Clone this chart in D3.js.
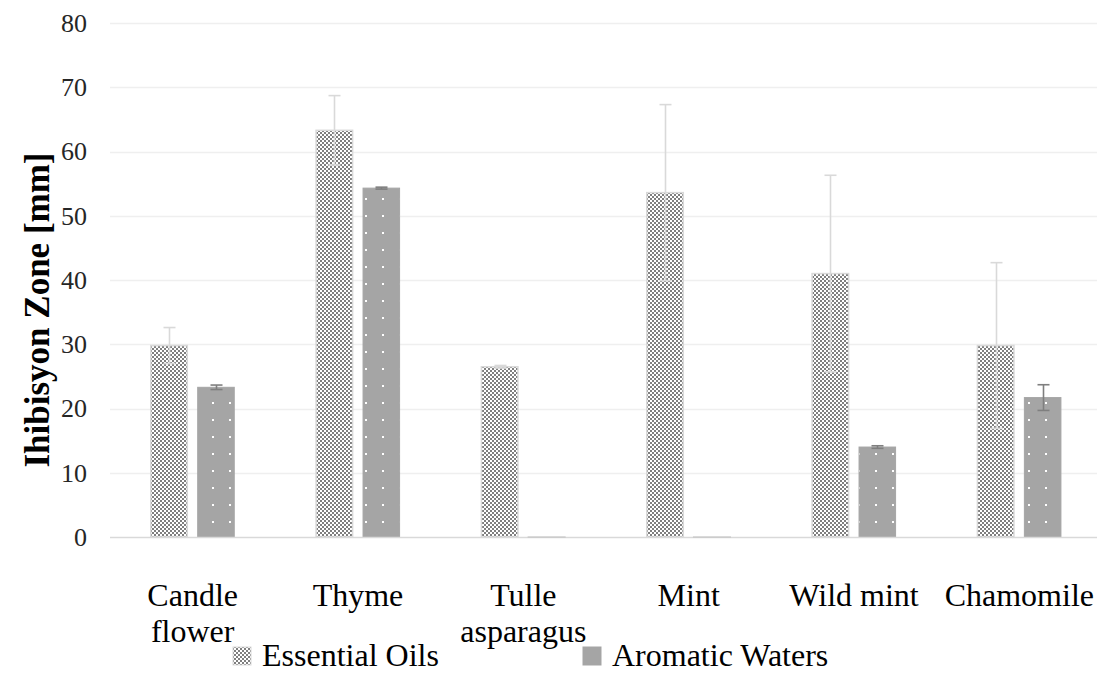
<!DOCTYPE html>
<html><head><meta charset="utf-8">
<script src="https://cdn.jsdelivr.net/npm/d3@7"></script>
</head><body style="margin:0"><svg id="c" width="1097" height="684" style="display:block"></svg>
<script>
const categories = [["Candle","flower"],["Thyme"],["Tulle","asparagus"],["Mint"],["Wild mint"],["Chamomile"]];
const seriesNames = ["Essential Oils","Aromatic Waters"];
const essentialOils = [29.8, 63.3, 26.5, 53.6, 41.0, 29.8];
const essentialErr = [2.8, 5.4, 0.2, 13.7, 15.3, 12.9];
const aromaticWaters = [23.3, 54.3, 0, 0, 14.0, 21.7];
const aromaticErr = [0.35, 0.15, 0, 0, 0.2, 2.0];
const yTicks = [0,10,20,30,40,50,60,70,80];
const FONT = '"Liberation Serif"';

const svg = d3.select("#c");
const defs = svg.append("defs");
const p1 = defs.append("pattern").attr("id","pEO").attr("patternUnits","userSpaceOnUse").attr("width",8).attr("height",8);
p1.append("rect").attr("width",8).attr("height",8).attr("fill","#fff");
[[0,0],[4,0],[2,2],[6,2],[0,4],[4,4],[2,6],[6,6]].forEach(([x,y])=>p1.append("rect").attr("x",x).attr("y",y).attr("width",2).attr("height",2).attr("fill","#7f7f7f"));
const p2 = defs.append("pattern").attr("id","pAW").attr("patternUnits","userSpaceOnUse").attr("width",17).attr("height",17).attr("x",0).attr("y",3);
p2.append("rect").attr("width",17).attr("height",17).attr("fill","#a5a5a5");
p2.append("rect").attr("x",8).attr("y",8).attr("width",2).attr("height",2).attr("fill","#fff");

const x0 = d3.scaleBand().domain(d3.range(categories.length)).range([110,1102]).paddingInner(0).paddingOuter(0);
const x1 = d3.scaleBand().domain([0,1]).range([40,125]).paddingInner(0.19);
const y = d3.scaleLinear().domain([0,80]).range([537,23]);

svg.append("g").selectAll("line").data(yTicks.slice(1)).join("line")
  .attr("x1",110).attr("x2",1097).attr("y1",d=>Math.round(y(d))+0.5).attr("y2",d=>Math.round(y(d))+0.5)
  .attr("stroke","#efefef").attr("stroke-width",1.5);

const yAxis = d3.axisLeft(y).tickValues(yTicks).tickSize(0).tickPadding(23);
const ga = svg.append("g").attr("transform","translate(110,0)").call(yAxis);
ga.attr("font-family", FONT).attr("font-size", 26);
ga.select(".domain").remove();
ga.selectAll("text").style("font-family",FONT).style("font-size","26px").attr("fill","#262626");

const series = [
  {vals: essentialOils, err: essentialErr, fill:"url(#pEO)", stroke:"#d9d9d9", ecol:"#d9d9d9"},
  {vals: aromaticWaters, err: aromaticErr, fill:"url(#pAW)", stroke:"#a5a5a5", ecol:"#7f7f7f"}
];
series.forEach((s,si)=>{
  const g = svg.append("g");
  s.vals.forEach((v,i)=>{
    if (v<=0) return;
    const bx = x0(i)+x1(si), bw = x1.bandwidth();
    g.append("rect").attr("x",bx+0.75).attr("y",y(v)).attr("width",bw-1.5).attr("height",y(0)-y(v))
      .attr("fill",s.fill).attr("stroke",s.stroke).attr("stroke-width",si===0?1.5:1);
  });
});
svg.append("line").attr("x1",110).attr("x2",1097).attr("y1",537.5).attr("y2",537.5).attr("stroke","#d9d9d9").attr("stroke-width",1.5);
aromaticWaters.forEach((v,i)=>{
  if (v>0) return;
  const bx = x0(i)+x1(1), bw = x1.bandwidth();
  svg.append("line").attr("x1",bx).attr("x2",bx+bw).attr("y1",537).attr("y2",537).attr("stroke","#bfbfbf").attr("stroke-width",1);
});
series.forEach((s,si)=>{
  const g = svg.append("g");
  s.vals.forEach((v,i)=>{
    if (v<=0) return;
    const cx = Math.round(x0(i)+x1(si)+x1.bandwidth()/2)+0.5;
    const e = s.err[i];
    const yt = y(v+e), yb = y(v-e);
    g.append("line").attr("x1",cx).attr("x2",cx).attr("y1",yt).attr("y2",yb).attr("stroke",s.ecol).attr("stroke-width",1.6);
    [yt,yb].forEach(yy=>g.append("line").attr("x1",cx-6).attr("x2",cx+6).attr("y1",yy).attr("y2",yy).attr("stroke",s.ecol).attr("stroke-width",1.6));
  });
});

const gl = svg.append("g");
categories.forEach((lines,i)=>{
  const cx = x0(i)+x0.bandwidth()/2;
  const t = gl.append("text").attr("x",cx).attr("y",606).attr("text-anchor","middle").style("font-family",FONT).style("font-size","32px").attr("fill","#000");
  lines.forEach((ln,j)=>t.append("tspan").attr("x",cx).attr("dy",j===0?0:36).text(ln));
});

svg.append("text").attr("transform","translate(49,310) rotate(-90)").attr("text-anchor","middle")
  .style("font-family",FONT).style("font-size","35px").style("font-weight","bold").attr("fill","#000").text("Ihibisyon Zone [mm]");

const legend = [{x:233, fill:"url(#pEO)", stroke:"#d9d9d9"},{x:583, fill:"#a5a5a5", stroke:"#a5a5a5"}];
legend.forEach((l,i)=>{
  svg.append("rect").attr("x",l.x).attr("y",647).attr("width",18).attr("height",18).attr("fill",l.fill).attr("stroke",l.stroke);
  svg.append("text").attr("x",l.x+29).attr("y",666).style("font-family",FONT).style("font-size","32px").attr("fill","#000").text(seriesNames[i]);
});
</script></body></html>
